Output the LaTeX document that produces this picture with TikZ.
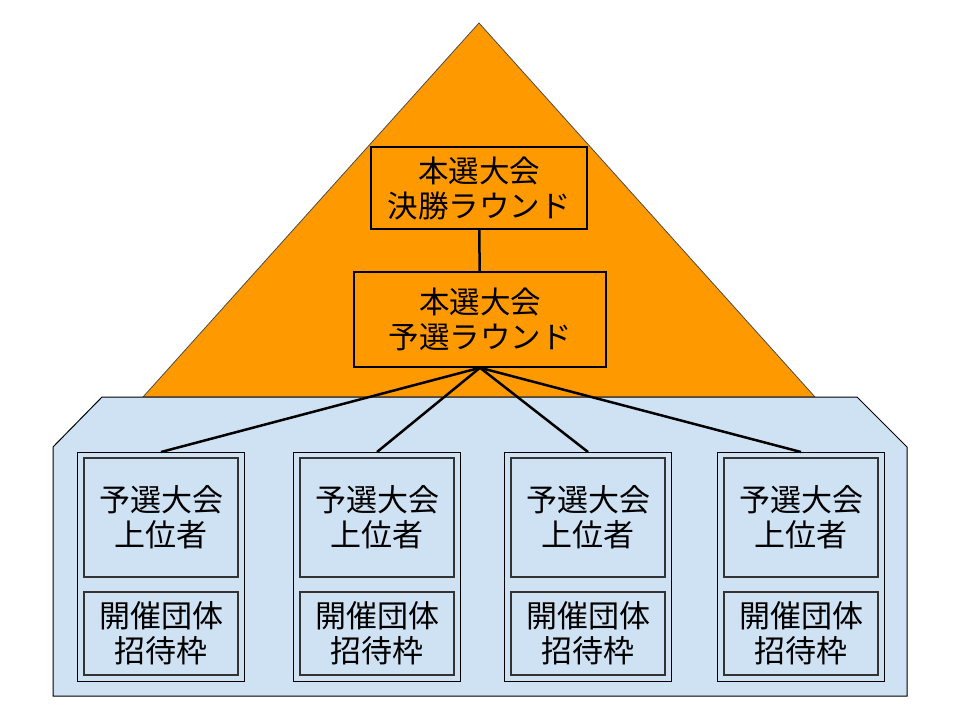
\documentclass[tikz,border=0pt]{standalone}
\usepackage{fontspec}
\newfontfamily\jpfont{Noto Sans CJK JP}
\definecolor{pyramid}{HTML}{FF9900}
\definecolor{panel}{HTML}{CFE2F3}
\tikzset{
    stage/.style={draw, rectangle, line width=1.5pt, align=center, inner sep=0pt,
        font=\jpfont\fontsize{30.5}{35}\selectfont},
    group/.style={draw, rectangle, line width=1pt, minimum width=167pt, minimum height=229pt},
    entry/.style={draw=black!80, rectangle, line width=2pt, minimum width=154pt, align=center,
        inner sep=0pt, font=\jpfont\fontsize{31}{35}\selectfont},
    link/.style={line width=2.5pt}
}

\begin{document}
\begin{tikzpicture}[x=1pt, y=-1pt]
    \useasboundingbox (0,0) rectangle (960,720);
    % background shapes
    \draw[fill=pyramid, draw=black!70, line width=0.8pt] (479,23) -- (815,397) -- (143,397) -- cycle;
    \draw[fill=panel, line width=1pt] (102,397) -- (857,397) -- (907,447) -- (907,696)
        -- (53,696) -- (53,447) -- cycle;
    % main tournament
    \node[stage, minimum width=216pt, minimum height=82pt] (final) at (479,188) {本選大会\\決勝ラウンド};
    \node[stage, minimum width=252pt, minimum height=95pt] (prelim) at (480,319.5) {本選大会\\予選ラウンド};
    \draw[link] (final) -- (prelim);
    % qualifier groups
    \foreach \i/\x in {1/161, 2/377, 3/588, 4/801} {
        \node[group] (g\i) at (\x,567) {};
        \node[entry, minimum height=119pt] (q\i) at (\x,517.5) {予選大会\\上位者};
        \node[entry, minimum height=83pt] (h\i) at (\x,633.5) {開催団体\\招待枠};
        \draw[link] (prelim.south) -- (g\i.north);
    }
\end{tikzpicture}
\end{document}
